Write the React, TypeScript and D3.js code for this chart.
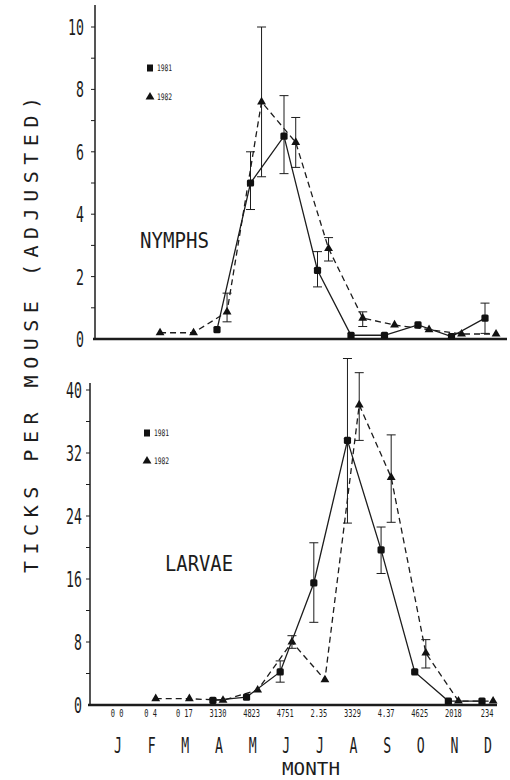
import React from "react";
import * as d3 from "d3";

// sampling positions (month index, 0 = Jan)
const months1981 = [3, 4, 5, 6, 7, 8, 9, 10, 11];
const months1982 = [1.3, 2.3, 3.3, 4.33, 5.35, 6.33, 7.35, 8.3, 9.33, 10.3, 11.33];

// nymphs
const nymphs1981 = [0.3, 5.0, 6.5, 2.2, 0.12, 0.12, 0.45, 0.08, 0.67];
const nymphs1981Lo = [null, 4.15, 5.3, 1.67, null, null, null, null, 0.18];
const nymphs1981Hi = [null, 6.0, 7.8, 2.8, null, null, null, null, 1.15];
const nymphs1982 = [0.2, 0.2, 0.87, 7.6, 6.3, 2.9, 0.67, 0.45, 0.3, 0.16, 0.16];
const nymphs1982Lo = [null, null, 0.55, 5.2, 5.5, 2.5, 0.4, null, null, null, null];
const nymphs1982Hi = [null, null, 1.47, 10.0, 7.1, 3.25, 0.87, null, null, null, null];

// larvae
const larvae1981 = [0.6, 1.0, 4.2, 15.5, 33.6, 19.7, 4.2, 0.5, 0.5];
const larvae1981Lo = [null, null, 2.9, 10.5, 23.1, 16.7, null, null, null];
const larvae1981Hi = [null, null, 5.6, 20.6, 44.0, 22.6, null, null, null];
const larvae1982 = [0.8, 0.8, 0.6, 1.9, 8.0, 3.2, 38.1, 28.9, 6.6, 0.5, 0.5];
const larvae1982Lo = [null, null, null, null, 7.2, null, 33.6, 23.2, 4.7, null, null];
const larvae1982Hi = [null, null, null, null, 8.8, null, 42.2, 34.3, 8.3, null, null];

const monthLabels = ["J", "F", "M", "A", "M", "J", "J", "A", "S", "O", "N", "D"];
const sampleSizes = ["0 0", "0 4", "0 17", "3130", "4823", "4751", "2.35", "3329", "4.37", "4625", "2018", "234"];
const nymphTicks = [0, 2, 4, 6, 8, 10];
const larvaeTicks = [0, 8, 16, 24, 32, 40];

const FONT = "DejaVu Sans Mono";
const INK = "#1c1c1c";

const xTop = d3.scaleLinear().domain([0, 11]).range([116.5, 485]);
const yTop = d3.scaleLinear().domain([0, 10]).range([339, 27]);
const xBot = d3.scaleLinear().domain([0, 11]).range([112, 482]);
const yBot = d3.scaleLinear().domain([0, 40]).range([705, 390]);

const triPath = d3.symbol(d3.symbolTriangle, 34)();

const Txt = ({ x, y, size, sx = 0.6, anchor = "middle", children }: any) => (
  <text
    transform={`translate(${x},${y}) scale(${sx},1)`}
    fontSize={size}
    fontFamily={FONT}
    textAnchor={anchor}
    fill={INK}
  >
    {children}
  </text>
);

const Series = ({ xs, vals, lo, hi, x, y, dashed, square }: any) => {
  const line = d3
    .line<number>()
    .x((_, i) => x(xs[i]))
    .y((d) => y(d));
  return (
    <g>
      <path
        d={line(vals) || ""}
        fill="none"
        stroke={INK}
        strokeWidth={1.3}
        strokeDasharray={dashed ? "6,4" : undefined}
      />
      {vals.map((v: number, i: number) => {
        const cx = x(xs[i]);
        const cy = y(v);
        return (
          <g key={i}>
            {lo[i] != null && (
              <g stroke={INK} strokeWidth={1}>
                <line x1={cx} x2={cx} y1={y(lo[i])} y2={y(hi[i])} />
                <line x1={cx - 4.5} x2={cx + 4.5} y1={y(lo[i])} y2={y(lo[i])} />
                <line x1={cx - 4.5} x2={cx + 4.5} y1={y(hi[i])} y2={y(hi[i])} />
              </g>
            )}
            {square ? (
              <rect x={cx - 3.6} y={cy - 3.6} width={7.2} height={7.2} rx={1.5} fill="#111" />
            ) : (
              <path d={triPath || ""} transform={`translate(${cx},${cy})`} fill="#111" />
            )}
          </g>
        );
      })}
    </g>
  );
};

const Legend = ({ x, y1, y2 }: any) => (
  <g>
    <rect x={x - 3} y={y1 - 3.5} width={6} height={7} fill="#111" />
    <Txt x={x + 7} y={y1 + 3} size={9} sx={0.7} anchor="start">1981</Txt>
    <path d={triPath || ""} transform={`translate(${x},${y2})`} fill="#111" />
    <Txt x={x + 7} y={y2 + 3} size={9} sx={0.7} anchor="start">1982</Txt>
  </g>
);

export default function App() {
  return (
    <svg
      width={510}
      height={780}
      style={{ position: "absolute", left: 0, top: 0, background: "#fff" }}
    >
      <rect width={510} height={780} fill="#fff" />

      {/* y title */}
      <text
        transform="translate(38,335) rotate(-90)"
        fontSize={20}
        fontFamily={FONT}
        textAnchor="middle"
        textLength={476}
        lengthAdjust="spacing"
        fill={INK}
      >
        TICKS PER MOUSE (ADJUSTED)
      </text>

      {/* ---- nymphs panel ---- */}
      <line x1={95} x2={95} y1={5} y2={339} stroke={INK} strokeWidth={1.5} />
      <line x1={93} x2={507} y1={339} y2={339} stroke={INK} strokeWidth={2.5} />
      {d3.range(1, 11).map((v) => (
        <line key={v} x1={91} x2={95} y1={yTop(v)} y2={yTop(v)} stroke={INK} strokeWidth={1} />
      ))}
      {nymphTicks.map((v) => (
        <Txt key={v} x={84} y={yTop(v) + 8} size={22} anchor="end">{v}</Txt>
      ))}
      <Legend x={150} y1={68} y2={97} />
      <text x={140} y={248} fontSize={22} fontFamily={FONT} textLength={69} lengthAdjust="spacingAndGlyphs" fill={INK}>
        NYMPHS
      </text>
      <Series xs={months1982} vals={nymphs1982} lo={nymphs1982Lo} hi={nymphs1982Hi} x={xTop} y={yTop} dashed />
      <Series xs={months1981} vals={nymphs1981} lo={nymphs1981Lo} hi={nymphs1981Hi} x={xTop} y={yTop} square />

      {/* ---- larvae panel ---- */}
      <line x1={90} x2={90} y1={383} y2={705} stroke={INK} strokeWidth={1.5} />
      <line x1={88} x2={497} y1={705} y2={705} stroke={INK} strokeWidth={2.5} />
      {d3.range(4, 41, 4).map((v) => (
        <line key={v} x1={86} x2={90} y1={yBot(v)} y2={yBot(v)} stroke={INK} strokeWidth={1} />
      ))}
      {larvaeTicks.map((v) => (
        <Txt key={v} x={82} y={yBot(v) + 8} size={22} anchor="end">{v}</Txt>
      ))}
      <Legend x={147} y1={433} y2={461} />
      <text x={165} y={571} fontSize={22} fontFamily={FONT} textLength={68} lengthAdjust="spacingAndGlyphs" fill={INK}>
        LARVAE
      </text>
      <Series xs={months1982} vals={larvae1982} lo={larvae1982Lo} hi={larvae1982Hi} x={xBot} y={yBot} dashed />
      <Series xs={months1981} vals={larvae1981} lo={larvae1981Lo} hi={larvae1981Hi} x={xBot} y={yBot} square />

      {/* month axis labels */}
      {sampleSizes.map((s, i) => (
        <Txt key={i} x={xBot(i + 0.15)} y={717} size={10} sx={0.7}>{s}</Txt>
      ))}
      {monthLabels.map((m, i) => (
        <Txt key={i} x={xBot(i + 0.18)} y={753} size={22}>{m}</Txt>
      ))}
      <text x={311} y={775} fontSize={17} fontFamily={FONT} textAnchor="middle" textLength={58} lengthAdjust="spacingAndGlyphs" fill={INK}>
        MONTH
      </text>
    </svg>
  );
}
